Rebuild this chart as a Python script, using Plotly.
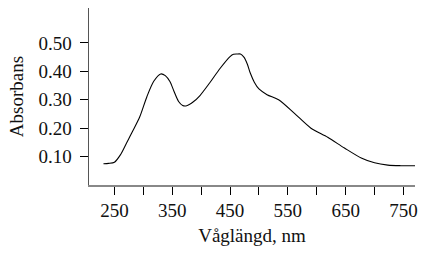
import plotly.graph_objects as go

wavelength = [231, 240, 250, 260, 271, 283, 294, 306, 318, 330, 338, 346, 353, 361, 368, 375, 386, 398, 415, 433, 450, 456, 462, 468, 474, 480, 485, 492, 500, 514, 534, 561, 590, 619, 648, 677, 700, 723, 745, 770]
absorbance = [0.075, 0.076, 0.080, 0.105, 0.148, 0.195, 0.241, 0.310, 0.365, 0.391, 0.385, 0.364, 0.330, 0.294, 0.280, 0.279, 0.292, 0.315, 0.360, 0.411, 0.452, 0.460, 0.461, 0.461, 0.450, 0.425, 0.394, 0.362, 0.338, 0.318, 0.300, 0.253, 0.200, 0.168, 0.130, 0.095, 0.078, 0.070, 0.068, 0.068]

x_ticks = [250, 350, 450, 550, 650, 750]
y_ticks = [0.10, 0.20, 0.30, 0.40, 0.50]

fig = go.Figure(go.Scatter(x=wavelength, y=absorbance, mode="lines",
                           line=dict(color="black", width=1.1, shape="spline", smoothing=0.8)))

font = dict(family="Liberation Serif", size=19, color="#111111")
fig.update_layout(
    width=423, height=253,
    margin=dict(l=89, r=8, t=8, b=68, autoexpand=False),
    paper_bgcolor="white", plot_bgcolor="white",
    showlegend=False,
    font=font,
    xaxis=dict(range=[206, 770], tickvals=[250, 300, 350, 400, 450, 500, 550, 600, 650, 700, 750],
               ticktext=["250", "", "350", "", "450", "", "550", "", "650", "", "750"],
               ticks="outside", ticklen=8, tickcolor="black", tickwidth=1,
               showline=True, linecolor="#888888", linewidth=1.5, showgrid=False, zeroline=False,
               automargin=False, ticklabelstandoff=0,
               title=dict(text="Våglängd, nm", font=font, standoff=8)),
    yaxis=dict(range=[0, 0.623], tickvals=y_ticks, ticktext=["%.2f" % v for v in y_ticks],
               ticks="outside", ticklen=8, tickcolor="black", tickwidth=1,
               showline=True, linecolor="#555555", linewidth=1.5, showgrid=False, zeroline=False,
               automargin=False, ticklabelstandoff=4,
               title=dict(text="Absorbans", font=font, standoff=10)),
)
fig.write_html("out.html", config={"displayModeBar": False, "staticPlot": True},
               post_script="document.body.style.margin='0';document.body.style.overflow='hidden';")
